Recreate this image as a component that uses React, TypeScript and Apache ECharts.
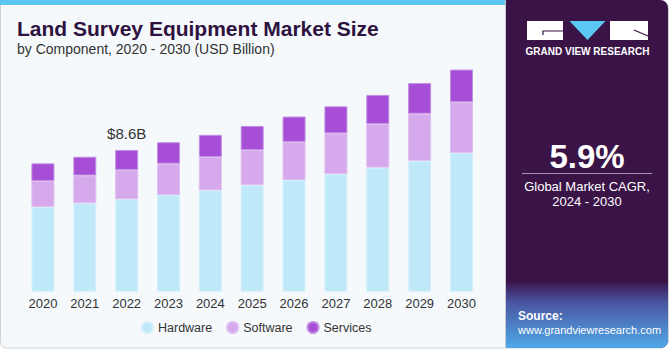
import React, { useEffect, useRef } from "react";
import * as echarts from "echarts";

const years = ["2020", "2021", "2022", "2023", "2024", "2025", "2026", "2027", "2028", "2029", "2030"];
const hardware = [5.14, 5.37, 5.61, 5.87, 6.15, 6.46, 6.78, 7.14, 7.53, 7.95, 8.42];
const software = [1.58, 1.68, 1.78, 1.9, 2.02, 2.14, 2.31, 2.47, 2.65, 2.85, 3.08];
const services = [1.07, 1.14, 1.21, 1.3, 1.35, 1.46, 1.54, 1.64, 1.76, 1.86, 1.98];
const seriesNames = ["Hardware", "Software", "Services"];
const highlightIndex = 2;
const highlightLabel = "$8.6B";
const cagr = "5.9%";

const FONT = "'Liberation Sans', Arial, sans-serif";

export default function App() {
  const ref = useRef<HTMLDivElement>(null);
  useEffect(() => {
    if (!ref.current) return;
    const chart = echarts.init(ref.current, null, { renderer: "svg" });
    const mkBar = (name: string, data: any[], color: string, border: string) => ({
      name,
      type: "bar",
      stack: "total",
      barWidth: 23,
      data,
      itemStyle: { color, borderColor: border, borderWidth: 1 },
      emphasis: { disabled: true },
    });
    const servicesData = services.map((v, i) =>
      i === highlightIndex
        ? {
            value: v,
            label: {
              show: true,
              position: "top",
              distance: 9,
              formatter: highlightLabel,
              fontSize: 15,
              color: "#333",
              fontFamily: FONT,
            },
          }
        : v
    );
    const option: any = {
      animation: false,
      backgroundColor: "transparent",
      grid: { left: 22, width: 460.4, top: 61, bottom: 58.3, containLabel: false },
      xAxis: {
        type: "category",
        data: years,
        axisLine: { show: false },
        axisTick: { show: false },
        axisLabel: { color: "#333", fontSize: 13, margin: 5, fontFamily: FONT },
      },
      yAxis: {
        type: "value",
        min: 0,
        max: 14,
        show: false,
        splitLine: { show: false },
      },
      legend: {
        data: seriesNames,
        bottom: 11,
        left: 136,
        itemWidth: 11,
        itemHeight: 11,
        itemGap: 14,
        icon: "circle",
        textStyle: { color: "#333", fontSize: 12.5, fontFamily: FONT },
      },
      series: [
        mkBar(seriesNames[0], hardware, "#bfe9f9", "#d6f0fb"),
        mkBar(seriesNames[1], software, "#d6a8ec", "#dfbdf0"),
        mkBar(seriesNames[2], servicesData, "#a64fd6", "#c18ee3"),
      ],
      graphic: [
        {
          type: "rect",
          z: -10,
          shape: { x: 0.5, y: 0.5, width: 668, height: 347.5, r: [0, 8, 8, 6] },
          style: { fill: "#f5f9fc", stroke: "#cfd3d6", lineWidth: 1 },
        },
        {
          type: "rect",
          z: -9,
          shape: { x: 0, y: 0, width: 506, height: 5 },
          style: { fill: "#5cc5ef" },
        },
        {
          type: "rect",
          z: -9,
          shape: { x: 506, y: 0, width: 162, height: 348, r: [0, 8, 8, 0] },
          style: { fill: "#3a1347" },
        },
        {
          type: "rect",
          z: -8,
          shape: { x: 506, y: 283, width: 162, height: 65, r: [0, 0, 8, 0] },
          style: {
            fill: new echarts.graphic.LinearGradient(0, 0, 0, 1, [
              { offset: 0, color: "#3c1a55" },
              { offset: 0.3, color: "#4a55a0" },
              { offset: 1, color: "#4faaea" },
            ]),
          },
        },
        { type: "rect", z: -7, shape: { x: 505, y: 0, width: 1, height: 348 }, style: { fill: "#c9c9d0" } },
        { type: "rect", shape: { x: 527, y: 21, width: 36, height: 19 }, style: { fill: "#ffffff" } },
        { type: "polyline", shape: { points: [[563, 31], [543, 31], [543, 35]] }, style: { stroke: "#3a1347", lineWidth: 1.2, fill: null } },
        { type: "polygon", shape: { points: [[569.5, 21], [605.5, 21], [587.5, 40]] }, style: { fill: "#5bc8f3" } },
        { type: "rect", shape: { x: 610, y: 21, width: 38, height: 19 }, style: { fill: "#ffffff" } },
        { type: "line", shape: { x1: 634, y1: 30, x2: 648, y2: 36 }, style: { stroke: "#3a1347", lineWidth: 1.2 } },
        {
          type: "text",
          x: 587.5,
          y: 51,
          style: {
            text: "GRAND VIEW RESEARCH",
            fill: "#ffffff",
            font: `bold 10px ${FONT}`,
            align: "center",
            verticalAlign: "middle",
          },
        },
        {
          type: "text",
          x: 587,
          y: 156,
          style: { text: cagr, fill: "#ffffff", font: `bold 33px ${FONT}`, align: "center", verticalAlign: "middle" },
        },
        { type: "line", shape: { x1: 522, y1: 173.5, x2: 652, y2: 173.5 }, style: { stroke: "#a796b0", lineWidth: 1 } },
        {
          type: "text",
          x: 587,
          y: 186,
          style: { text: "Global Market CAGR,", fill: "#ffffff", font: `13px ${FONT}`, align: "center", verticalAlign: "middle" },
        },
        {
          type: "text",
          x: 587,
          y: 201,
          style: { text: "2024 - 2030", fill: "#ffffff", font: `13px ${FONT}`, align: "center", verticalAlign: "middle" },
        },
        {
          type: "text",
          x: 518,
          y: 316,
          style: { text: "Source:", fill: "#ffffff", font: `bold 12px ${FONT}`, align: "left", verticalAlign: "middle" },
        },
        {
          type: "text",
          x: 518,
          y: 330,
          style: { text: "www.grandviewresearch.com", fill: "#ffffff", font: `11px ${FONT}`, align: "left", verticalAlign: "middle" },
        },
        {
          type: "text",
          x: 17,
          y: 28,
          style: {
            text: "Land Survey Equipment Market Size",
            fill: "#2e1240",
            font: `bold 21px ${FONT}`,
            align: "left",
            verticalAlign: "middle",
          },
        },
        {
          type: "text",
          x: 17,
          y: 49,
          style: {
            text: "by Component, 2020 - 2030 (USD Billion)",
            fill: "#333333",
            font: `14px ${FONT}`,
            align: "left",
            verticalAlign: "middle",
          },
        },
      ],
    };
    chart.setOption(option);
    return () => chart.dispose();
  }, []);
  return (
    <div
      ref={ref}
      style={{ position: "fixed", left: 0, top: 0, width: 670, height: 350, background: "#ffffff" }}
    />
  );
}
